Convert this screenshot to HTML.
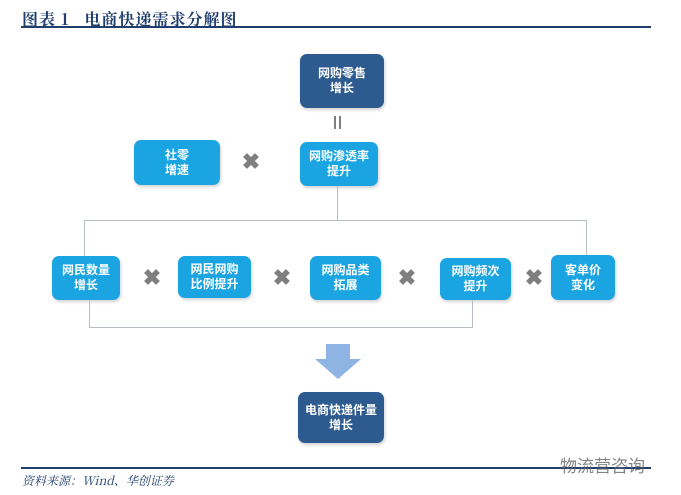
<!DOCTYPE html>
<html><head><meta charset="utf-8"><style>
body{margin:0;width:681px;height:495px;background:#fff;position:relative;overflow:hidden;font-family:"Liberation Sans","Noto Sans CJK SC",sans-serif}
.b{position:absolute;border-radius:7px;color:#fff;font-weight:bold;font-size:12px;line-height:15px;display:flex;align-items:center;justify-content:center;text-align:center;box-shadow:1px 2px 3px rgba(0,0,0,.18)}
.l{background:#1ba4e2}.d{background:#2e5b8f}
.x{position:absolute;color:#7f7f7f;font-size:22px;font-weight:bold;line-height:22px;width:22px;text-align:center}
.ln{position:absolute;background:#b8bfc8}
</style></head><body>
<div style="position:absolute;left:22px;top:7px;font-family:'Noto Serif CJK SC',serif;font-weight:bold;font-size:16px;color:#1f3e6e;letter-spacing:1px">图表 1&nbsp;&nbsp;&nbsp;电商快递需求分解图</div>
<div style="position:absolute;left:21px;top:26px;width:630px;height:2px;background:#1f3e6e"></div>

<div class="b d" style="left:300px;top:54px;width:84px;height:54px">网购零售<br>增长</div>
<div style="position:absolute;left:334px;top:116px;width:2px;height:13px;background:#7f7f7f"></div>
<div style="position:absolute;left:339px;top:116px;width:2px;height:13px;background:#7f7f7f"></div>
<div class="b l" style="left:134px;top:140px;width:86px;height:45px">社零<br>增速</div>
<div class="x" style="left:240px;top:151px">✖</div>
<div class="b l" style="left:300px;top:142px;width:78px;height:44px">网购渗透率<br>提升</div>

<div class="ln" style="left:337px;top:186px;width:1px;height:34px"></div>
<div class="ln" style="left:84px;top:220px;width:503px;height:1px"></div>
<div class="ln" style="left:84px;top:220px;width:1px;height:36px"></div>
<div class="ln" style="left:586px;top:220px;width:1px;height:36px"></div>

<div class="b l" style="left:52px;top:256px;width:68px;height:44px">网民数量<br>增长</div>
<div class="x" style="left:141px;top:267px">✖</div>
<div class="b l" style="left:178px;top:256px;width:73px;height:42px">网民网购<br>比例提升</div>
<div class="x" style="left:271px;top:267px">✖</div>
<div class="b l" style="left:310px;top:256px;width:71px;height:44px">网购品类<br>拓展</div>
<div class="x" style="left:396px;top:267px">✖</div>
<div class="b l" style="left:440px;top:258px;width:71px;height:42px">网购频次<br>提升</div>
<div class="x" style="left:523px;top:267px">✖</div>
<div class="b l" style="left:551px;top:255px;width:64px;height:45px">客单价<br>变化</div>

<div class="ln" style="left:89px;top:300px;width:1px;height:27px"></div>
<div class="ln" style="left:89px;top:327px;width:384px;height:1px"></div>
<div class="ln" style="left:472px;top:300px;width:1px;height:27px"></div>

<svg style="position:absolute;left:314px;top:344px" width="48" height="36"><polygon points="12,0 36,0 36,15 47,15 24,35 1,15 12,15" fill="#8eb4e3"/></svg>

<div class="b d" style="left:298px;top:392px;width:86px;height:51px">电商快递件量<br>增长</div>

<div style="position:absolute;left:21px;top:467px;width:630px;height:2px;background:#1f3e6e"></div>
<div style="position:absolute;left:22px;top:472px;font-family:'Noto Serif CJK SC',serif;font-style:italic;font-size:12px;color:#1f3e6e">资料来源：Wind、华创证券</div>
<div style="position:absolute;left:560px;top:452px;font-size:17px;color:#666;opacity:.8">物流营咨询</div>
</body></html>
